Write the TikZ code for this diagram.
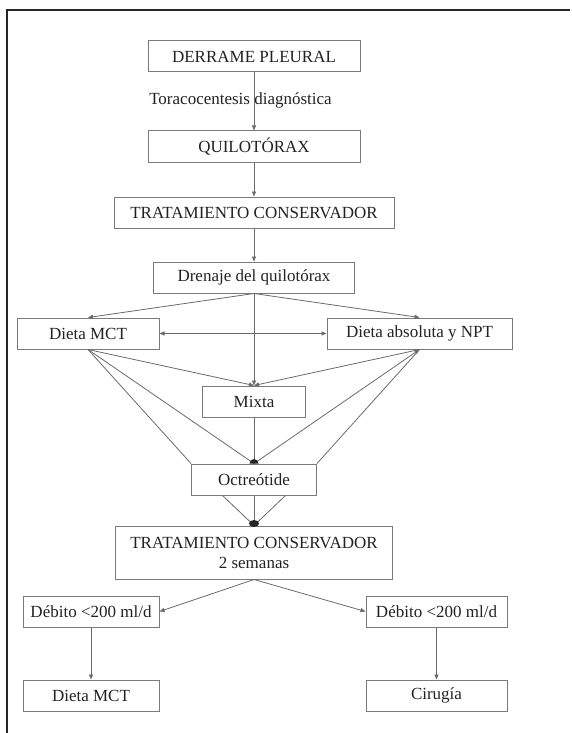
\documentclass[tikz,border=0pt]{standalone}
\usepackage{fontspec}
\setmainfont{Liberation Serif}
\usepackage{tikz}
\usetikzlibrary{arrows.meta, positioning, calc}
\definecolor{qtLine}{HTML}{6A6A6A}
\definecolor{qtBox}{HTML}{7A7A7A}
\definecolor{qtText}{HTML}{222222}

\begin{document}
\begin{tikzpicture}[x=1pt, y=1pt,
  box/.style={draw=qtBox, line width=1pt, align=center, text=qtText,
              font=\fontsize{17}{20}\selectfont, minimum height=31pt,
              inner sep=2pt},
  arr/.style={-{Triangle[length=5pt, width=4pt]}, draw=qtLine, line width=0.8pt},
  dblarr/.style={{Triangle[length=5pt, width=4pt]}-{Triangle[length=5pt, width=4pt]},
                 draw=qtLine, line width=0.8pt},
  backarr/.style={{Triangle[length=5pt, width=4pt]}-, draw=qtLine, line width=0.8pt},
  ln/.style={draw=qtLine, line width=0.8pt},
  dot/.style={fill=black!85}
]
  \useasboundingbox (0,0) rectangle (571,-733);
  \draw[line width=1.4pt, black!85] (7,-733) -- (7,-10) -- (570,-10);

  % central column
  \node[box, minimum width=212pt] (pleural) at (254,-56.5) {DERRAME PLEURAL};
  \node[box, minimum width=212pt, below=58pt of pleural] (quilo) {QUILOTÓRAX};
  \node[box, minimum width=280pt, below=34pt of quilo] (conserv) {TRATAMIENTO CONSERVADOR};
  \node[box, minimum width=201pt, below=33pt of conserv] (drenaje) {Drenaje del quilotórax};
  \node[box, minimum width=103pt, below=92pt of drenaje] (mixta) {Mixta};
  \node[box, minimum width=125pt, below=46pt of mixta] (octreo) {Octreótide};
  \node[box, minimum width=277pt, minimum height=53pt, below=30pt of octreo] (conserv2)
        {TRATAMIENTO CONSERVADOR\\2 semanas};

  % side nodes
  \node[box, minimum width=142pt] (mct) at (88,-333.5) {Dieta MCT};
  \node[box, minimum width=185pt] (npt) at (419.5,-333.5) {Dieta absoluta y NPT};
  \node[box, minimum width=136pt] (debL) at (91,-611.5) {Débito <200 ml/d};
  \node[box, minimum width=141pt] (debR) at (436.5,-611.5) {Débito <200 ml/d};
  \node[box, minimum width=136pt, below=52pt of debL] (mct2) {Dieta MCT};
  \node[box, minimum width=141pt, below=52pt of debR] (cirugia) {Cirugía};

  \node[text=qtText, font=\fontsize{17}{20}\selectfont] (toraco) at (240.5,-100)
        {Toracocentesis diagnóstica};

  \draw[arr] (pleural) -- (quilo);
  \draw[arr] (quilo) -- (conserv);
  \draw[arr] (conserv) -- (drenaje);
  \draw[arr] (drenaje.south) -- (mct.north);
  \draw[arr] (drenaje.south) -- (npt.north);
  \draw[arr] (drenaje.south) -- (mixta.north);
  \draw[dblarr] (mct) -- (npt);

  \draw[arr] (mct.south) -- (mixta.north);
  \draw[arr] (npt.south) -- (mixta.north);
  \draw[ln] (mct.south) -- (octreo.north);
  \draw[ln] (mct.south) -- (octreo.north west);
  \draw[backarr] (npt.south) -- (octreo.north);
  \draw[ln] (npt.south) -- (octreo.north east);
  \draw[ln] (mixta) -- (octreo);
  \fill[dot] (octreo.north) ++(4.5,0) arc[start angle=0, end angle=180, radius=4.5pt] -- cycle;

  \draw[ln] (octreo) -- (conserv2);
  \draw[ln] ($(octreo.south)!.5!(octreo.south west)$) -- (conserv2.north);
  \draw[ln] ($(octreo.south)!.5!(octreo.south east)$) -- (conserv2.north);
  \fill[dot] ($(conserv2.north)+(0,2)$) ellipse[x radius=5pt, y radius=3.5pt];

  \draw[arr] (conserv2.south) -- (debL.east);
  \draw[arr] (conserv2.south) -- (debR.west);
  \draw[arr] (debL) -- (mct2);
  \draw[arr] (debR) -- (cirugia);
\end{tikzpicture}
\end{document}
